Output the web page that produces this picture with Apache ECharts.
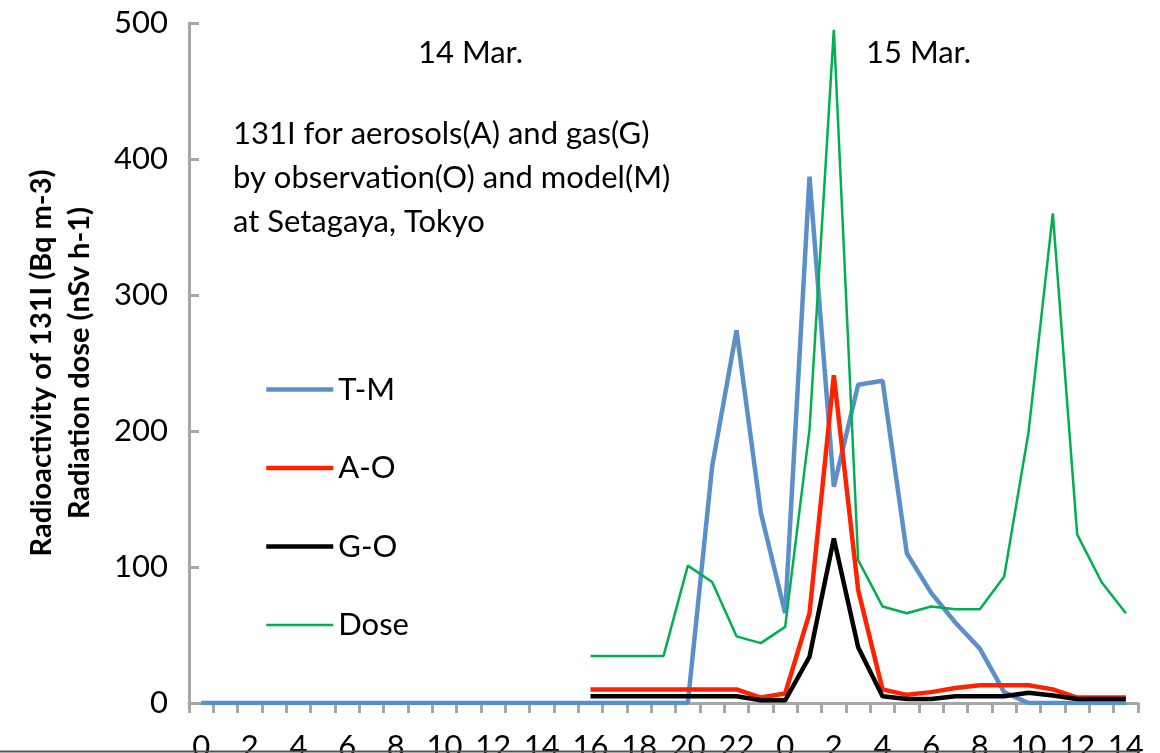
<!DOCTYPE html>
<html>
<head>
<meta charset="utf-8">
<script src="https://cdn.jsdelivr.net/npm/echarts@6/dist/echarts.min.js"></script>
<style>
html,body{margin:0;padding:0;background:#fff;}
#chart{width:1160px;height:753px;}
</style>
</head>
<body>
<div id="chart"></div>
<script>
// Hours: 14 Mar 0..23, then 15 Mar 0..14
const hours = ['0','1','2','3','4','5','6','7','8','9','10','11','12','13','14','15','16','17','18','19','20','21','22','23',
               '0','1','2','3','4','5','6','7','8','9','10','11','12','13','14'];

const tmValues = [0,0,0,0,0,0,0,0,0,0,0,0,0,0,0,0,0,0,0,0,0,174,274,140,
                  66,387,159,234,237,110,81,59,40,8,0,0,0,0,0];
const aoValues = [null,null,null,null,null,null,null,null,null,null,null,null,null,null,null,null,10,10,10,10,10,10,10,4,
                  7,66,241,83,10,6,8,11,13,13,13,10,4,4,4];
const goValues = [null,null,null,null,null,null,null,null,null,null,null,null,null,null,null,null,5,5,5,5,5,5,5,2,
                  2,34,121,41,5,3,3,5,5,5,7.5,5.5,3,3,3];
const doseValues = [null,null,null,null,null,null,null,null,null,null,null,null,null,null,null,null,34.5,34.5,34.5,34.5,101,89,49,44,
                    56,201,495,105,71,66,71,69,69,93,199,360,124,89,66];

const yTicks = [0,100,200,300,400,500];

const FONT = 'Lato';
const chart = echarts.init(document.getElementById('chart'), null, {renderer:'canvas'});

const option = {
  animation: false,
  backgroundColor: '#ffffff',
  grid: {left: 189, right: 22, top: 23, bottom: 50, containLabel: false, outerBoundsMode: 'none'},
  legend: {
    orient: 'vertical',
    left: 259,
    top: 369,
    itemWidth: 67,
    itemHeight: 30,
    itemGap: 47.5,
    itemStyle: {opacity: 0},
    textStyle: {fontFamily: FONT, fontSize: 31, color: '#000'},
    data: [
      {name: 'T-M', lineStyle: {width: 4.5}},
      {name: 'A-O', lineStyle: {width: 4.5}},
      {name: 'G-O', lineStyle: {width: 4.5}},
      {name: 'Dose', lineStyle: {width: 2.5}}
    ]
  },
  xAxis: {
    type: 'category',
    data: hours,
    boundaryGap: true,
    axisLine: {show: true, lineStyle: {color: '#a6a6a6', width: 3}},
    axisTick: {show: true, interval: 0, length: 10, inside: false, lineStyle: {color: '#a6a6a6', width: 3}},
    axisLabel: {interval: 1, margin: 28, fontFamily: FONT, fontSize: 31, color: '#000'},
    splitLine: {show: false}
  },
  yAxis: {
    type: 'value',
    min: yTicks[0],
    max: yTicks[yTicks.length-1],
    interval: 100,
    name: 'Radioactivity of 131I (Bq m-3)\nRadiation dose (nSv h-1)',
    nameLocation: 'middle',
    nameRotate: 90,
    nameGap: 90,
    nameTextStyle: {fontFamily: FONT, fontSize: 29, fontWeight: 'bold', color: '#000', lineHeight: 38},
    axisLine: {show: true, lineStyle: {color: '#a6a6a6', width: 3}},
    axisTick: {show: true, inside: true, length: 10, lineStyle: {color: '#a6a6a6', width: 3}},
    axisLabel: {margin: 21, fontFamily: FONT, fontSize: 31, color: '#000'},
    splitLine: {show: false}
  },
  series: [
    {name: 'T-M', type: 'line', data: tmValues, symbol: 'none', z: 2,
     lineStyle: {color: '#5b8fc9', width: 4.5}, itemStyle: {color: '#5b8fc9'}},
    {name: 'A-O', type: 'line', data: aoValues, symbol: 'none', z: 3,
     lineStyle: {color: '#ff2200', width: 4.5}, itemStyle: {color: '#ff2200'}},
    {name: 'G-O', type: 'line', data: goValues, symbol: 'none', z: 4,
     lineStyle: {color: '#000000', width: 4.5}, itemStyle: {color: '#000000'}},
    {name: 'Dose', type: 'line', data: doseValues, symbol: 'none', z: 5,
     lineStyle: {color: '#00b050', width: 2.5}, itemStyle: {color: '#00b050'}}
  ],
  graphic: [
    {type: 'text', left: 418, top: 37, style: {text: '14 Mar.', fontFamily: FONT, fontSize: 31, fill: '#000'}},
    {type: 'text', left: 866, top: 37, style: {text: '15 Mar.', fontFamily: FONT, fontSize: 31, fill: '#000'}},
    {type: 'text', left: 233, top: 112, style: {text: '131I for aerosols(A) and gas(G)\nby observation(O) and model(M)\nat Setagaya, Tokyo', fontFamily: FONT, fontSize: 31, fill: '#000', lineHeight: 44}},
    {type: 'line', z: 100, shape: {x1: 0, y1: 751.5, x2: 1140, y2: 751.5}, style: {stroke: '#555555', lineWidth: 2}}
  ]
};
chart.setOption(option);
</script>
</body>
</html>
